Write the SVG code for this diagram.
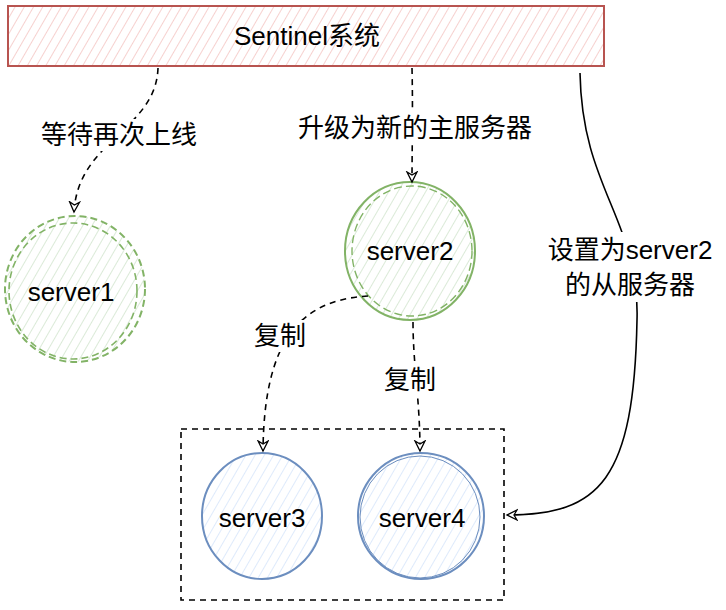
<svg xmlns="http://www.w3.org/2000/svg" width="726" height="610" viewBox="0 0 726 610">
<style>
text{font-family:"Liberation Sans","Noto Sans CJK SC",Arial,sans-serif;fill:#000;text-anchor:middle;dominant-baseline:central;font-size:26px}
.conn{fill:none;stroke:#000;stroke-width:1.6}
.dash{stroke-dasharray:6 5}
.bg{fill:#fff}
</style>
<defs>
<pattern id="hr" width="8" height="8" patternUnits="userSpaceOnUse" patternTransform="rotate(30)"><rect width="8" height="8" fill="#fff"/><line x1="0" y1="0" x2="0" y2="8" stroke="#f2b8b5" stroke-width="1.3"/></pattern>
<pattern id="hg" width="8" height="8" patternUnits="userSpaceOnUse" patternTransform="rotate(30)"><rect width="8" height="8" fill="#fff"/><line x1="0" y1="0" x2="0" y2="8" stroke="#cfe3cc" stroke-width="1.5"/></pattern>
<pattern id="hb" width="8" height="8" patternUnits="userSpaceOnUse" patternTransform="rotate(30)"><rect width="8" height="8" fill="#fff"/><line x1="0" y1="0" x2="0" y2="8" stroke="#d4e4fa" stroke-width="1.5"/></pattern>
<marker id="arr" markerWidth="14" markerHeight="14" refX="11" refY="6" orient="auto" markerUnits="userSpaceOnUse"><path d="M1,1 L11,6 L1,11 L4,6 Z" fill="#fff" stroke="#000" stroke-width="1.3"/></marker>
</defs>
<rect width="726" height="610" fill="#fff"/>

<g id="sentinel">
<rect x="8" y="6" width="596" height="60" fill="url(#hr)" stroke="#b85450" stroke-width="2"/>
<text x="307" y="36">Sentinel系统</text>
</g>

<g id="server1">
<ellipse cx="75" cy="289" rx="70" ry="73" fill="url(#hg)" stroke="#82b366" stroke-width="2" stroke-dasharray="7 4"/>
<ellipse cx="73" cy="291" rx="64" ry="68" fill="none" stroke="#82b366" stroke-width="1.6" stroke-dasharray="7 4"/>
<text x="71" y="292">server1</text>
</g>

<g id="server2">
<ellipse cx="410" cy="251" rx="65" ry="69" fill="url(#hg)" stroke="#82b366" stroke-width="2"/>
<ellipse cx="412" cy="251" rx="60" ry="65" fill="none" stroke="#82b366" stroke-width="1.4" stroke-dasharray="8 4"/>
<text x="410" y="251">server2</text>
</g>

<g id="server3">
<ellipse cx="262" cy="516" rx="60" ry="63" fill="url(#hb)" stroke="#6c8ebf" stroke-width="2"/>
<text x="262" y="518">server3</text>
</g>

<g id="server4">
<ellipse cx="421" cy="516" rx="63" ry="63" fill="url(#hb)" stroke="#6c8ebf" stroke-width="2"/>
<ellipse cx="420" cy="517" rx="60" ry="61" fill="none" stroke="#6c8ebf" stroke-width="1"/>
<text x="422" y="518">server4</text>
</g>

<g id="group-box">
<rect x="181" y="429" width="323" height="171" fill="none" stroke="#000" stroke-width="1.6" stroke-dasharray="6 5"/>
</g>

<g id="connectors">
<path class="conn dash" d="M158,68 C156,130 78,140 74,212" marker-end="url(#arr)"/>
<path class="conn dash" d="M412,68 C413,110 412,150 412,182" marker-end="url(#arr)"/>
<path class="conn dash" d="M368,296 C300,300 264,340 263,451" marker-end="url(#arr)"/>
<path class="conn dash" d="M413,322 C413,365 420,400 420,451" marker-end="url(#arr)"/>
<path class="conn" d="M580,73 C582,190 640,220 637,320 C634,480 600,515 507,515" marker-end="url(#arr)"/>

<rect class="bg" x="36" y="119" width="168" height="32"/>
<text x="119" y="135">等待再次上线</text>
<rect class="bg" x="291" y="112" width="248" height="32"/>
<text x="415" y="128">升级为新的主服务器</text>
<rect class="bg" x="252" y="320" width="56" height="32"/>
<text x="280" y="336">复制</text>
<rect class="bg" x="382" y="364" width="56" height="32"/>
<text x="410" y="380">复制</text>
<rect class="bg" x="545" y="232" width="170" height="70"/>
<text x="630" y="250">设置为server2</text>
<text x="630" y="285">的从服务器</text>
</g>
</svg>
